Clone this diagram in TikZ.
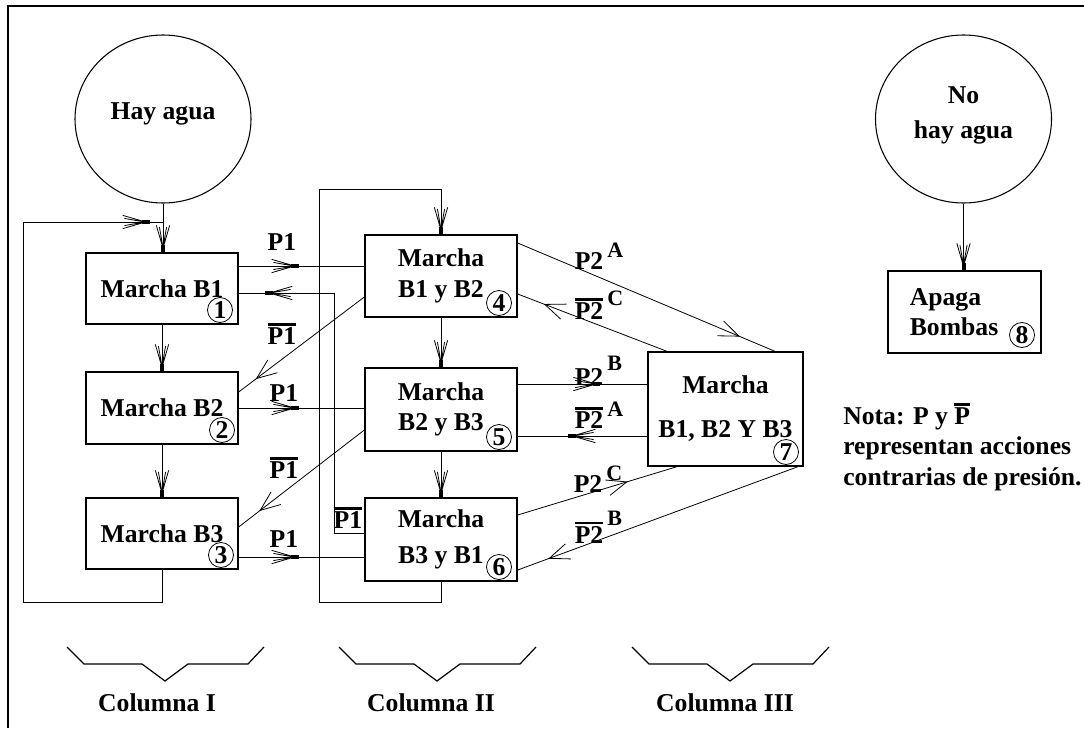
\documentclass[tikz,border=0pt]{standalone}
\usepackage{fontspec}
\setmainfont{Liberation Serif}
\usetikzlibrary{arrows.meta,decorations.markings,shapes.geometric}

\pgfdeclarearrow{
  name=Pump,
  parameters={},
  setup code={
    \pgfarrowssettipend{0pt}
    \pgfarrowssetbackend{-20.25pt}
    \pgfarrowssetlineend{-0.5pt}
    \pgfarrowshullpoint{0pt}{0pt}
    \pgfarrowshullpoint{-20.25pt}{5pt}
    \pgfarrowshullpoint{-20.25pt}{-5pt}
  },
  drawing code={
    \pgfpathrectangle{\pgfpoint{-5.5pt}{-1.5pt}}{\pgfpoint{5.5pt}{3pt}}
    \pgfusepathqfill
    \pgfsetlinewidth{0.6pt}
    \pgfpathmoveto{\pgfpoint{-20.25pt}{5pt}}\pgfpathlineto{\pgfpoint{-5.5pt}{0.7pt}}
    \pgfpathmoveto{\pgfpoint{-20.25pt}{-5pt}}\pgfpathlineto{\pgfpoint{-5.5pt}{-0.7pt}}
    \pgfpathmoveto{\pgfpoint{-19pt}{2.7pt}}\pgfpathlineto{\pgfpoint{-5.5pt}{0.3pt}}
    \pgfpathmoveto{\pgfpoint{-19pt}{-2.7pt}}\pgfpathlineto{\pgfpoint{-5.5pt}{-0.3pt}}
    \pgfusepathqstroke
  }
}

\newcommand\olab[1]{\leavevmode\vbox{\hrule height 2pt\kern1.3pt\hbox{#1}}}
\newcommand\labsup[2][9pt]{\rlap{\kern3pt\raisebox{#1}{\fontsize{16.5}{18}\selectfont #2}}}

\begin{document}
\begin{tikzpicture}[x=0.75pt,y=-0.75pt,
  every node/.style={font=\fontsize{19.25}{23}\selectfont\bfseries},
  box/.style={draw,line width=1pt,rectangle,inner sep=2pt,align=center},
  num/.style={draw,circle,line width=0.6pt,inner sep=0pt,minimum size=18.75pt},
  blob/.style={draw,ellipse,line width=0.8pt,minimum width=132pt,minimum height=126pt,inner sep=0pt},
  conn/.style={line width=0.75pt},
  thinl/.style={line width=0.6pt},
  pumpat/.style={postaction={decorate},decoration={markings,mark=at position #1 with {\arrow{Pump}}}},
  barbat/.style={postaction={decorate},decoration={markings,mark=at position #1 with {\arrow[line width=0.6pt]{Straight Barb[length=15pt,width=12pt]}}}},
  lab/.style={inner sep=0pt},
]
\useasboundingbox (0,0) rectangle (1084,728);
\draw[line width=1pt] (8,728) -- (8,6) -- (1084,6);

% circles
\node[blob,label={[yshift=3.75pt]center:Hay agua}] (c1) at (163,119) {};
\node[blob,label={[yshift=2.6pt,align=center]center:No\\[3pt]hay agua}] (c2) at (963.5,119) {};

% boxes
\node[box,minimum width=114pt,minimum height=53.25pt] (b1) at (162,288.5) {Marcha B1};
\node[box,minimum width=114pt,minimum height=54pt] (b2) at (162,408) {Marcha B2};
\node[box,minimum width=114pt,minimum height=53.25pt] (b3) at (162,533.5) {Marcha B3};
\node[box,minimum width=114pt,minimum height=61.5pt] (b4) at (441,276) {Marcha\\B1 y B2};
\node[box,minimum width=114pt,minimum height=62.25pt] (b5) at (441,409.5) {Marcha\\B2 y B3};
\node[box,minimum width=114pt,minimum height=62.25pt] (b6) at (441,539.5) {Marcha\\[4.5pt]B3 y B1};
\node[box,minimum width=116.25pt,minimum height=85.5pt] (b7) at (725.5,409) {Marcha\\[10pt]B1, B2 Y B3};
\node[box,minimum width=114.75pt,minimum height=61.5pt,text width=82pt,align=left] (b8) at (964.5,312) {Apaga\\Bombas};

% circled numbers
\node[num] (n1) at (220,310) {1};
\node[num] (n2) at (222,430) {2};
\node[num] (n3) at (221,555) {3};
\node[num] (n4) at (499,303) {4};
\node[num] (n5) at (499,437) {5};
\node[num] (n6) at (499,567) {6};
\node[num] (n7) at (786,452) {7};
\node[num] (n8) at (1022,335) {8};

% coordinates
\coordinate (loopIa) at (23,602);
\coordinate (jI) at (c1.south |- 0,222);
\coordinate (loopIIa) at (319,602);
\coordinate (loopIIb) at (b4.north |- 0,189);
\coordinate (fcorner) at (334,293);

% vertical arrows
\draw[conn,arrows={-Pump}] (c1.south) -- (c1.south |- b1.north);
\draw[conn,arrows={-Pump}] (b1.south) -- (b2.north);
\draw[conn,arrows={-Pump}] (b2.south) -- (b3.north);
\draw[conn,arrows={-Pump}] (b4.south) -- (b5.north);
\draw[conn,arrows={-Pump}] (b5.south) -- (b6.north);
\draw[conn,arrows={-Pump}] (c2.south) -- (c2.south |- b8.north);

% loops
\draw[conn,pumpat=-10pt] (b3.south) |- (loopIa) |- (jI);
\draw[conn,arrows={-Pump}] (b6.south) |- (loopIIa) |- (loopIIb) -- (b4.north);

% column I -> II
\draw[conn,pumpat=45pt] (b1.east |- 0,266) -- (b4.west |- 0,266);
\draw[conn,pumpat=45pt] (b2.east |- 0,408) -- (b5.west |- 0,408);
\draw[conn,pumpat=45pt] (b3.east |- 0,557) -- (b6.west |- 0,557);
\draw[conn,pumpat=-20pt] (b6.west |- 0,533) -| (fcorner) -- (b1.east |- fcorner);
\draw[thinl,barbat=-16pt] (b4.west |- 0,297) -- (b2.east |- 0,392);
\draw[thinl,barbat=-19.5pt] (b5.west |- 0,430) -- (b3.east |- 0,527);

% column II <-> III
\draw[thinl,barbat=-28.5pt] (b4.east |- 0,243) -- (b7.north -| 775,0);
\draw[thinl,barbat=-21pt] (b7.north -| 667,0) -- (b4.east |- 0,294);
\draw[conn,pumpat=62pt] (b5.east |- 0,384) -- (b7.west |- 0,384);
\draw[conn,pumpat=-38pt] (b7.west |- 0,436) -- (b5.east |- 0,436);
\draw[thinl,barbat=-38.5pt] (b6.east |- 0,515) -- (b7.south -| 677,0);
\draw[thinl,barbat=-24.5pt] (b7.south -| 798,0) -- (b6.east |- 0,570);

% labels
\node[lab] (l1) at (282,242) {P1};
\node[lab] (l2) at (282,334) {\olab{P1}};
\node[lab] (l3) at (284,393) {P1};
\node[lab] (l4) at (284,468) {\olab{P1}};
\node[lab] (l5) at (284,539) {P1};
\node[lab] (l6) at (348,518) {\olab{P1}};
\node[lab] (l7) at (589,256) {P2\labsup[9pt]{A}};
\node[lab] (l8) at (589,305) {\olab{P2}\labsup[10.5pt]{C}};
\node[lab] (l9) at (589,371) {P2\labsup[11pt]{B}};
\node[lab] (l10) at (589,415) {\olab{P2}\labsup[9pt]{A}};
\node[lab] (l11) at (588,479) {P2\labsup[9pt]{C}};
\node[lab] (l12) at (589,527) {\olab{P2}\labsup[13.5pt]{B}};

% note
\node[lab,anchor=west,align=left] (nota) at (843,447) {Nota: P y \olab{P}\\representan acciones\\contrarias de presión.};

% braces
\foreach \bx in {67,339,632}
  \draw[line width=0.9pt,shift={(\bx,0)}] (0,647) -- (17,664) -- (75,664) -- (98,681) -- (121,664) -- (181,664) -- (197,647);
\node[lab] (col1) at (157,703) {Columna I};
\node[lab] (col2) at (431,703) {Columna II};
\node[lab] (col3) at (725,703) {Columna III};
\end{tikzpicture}
\end{document}
